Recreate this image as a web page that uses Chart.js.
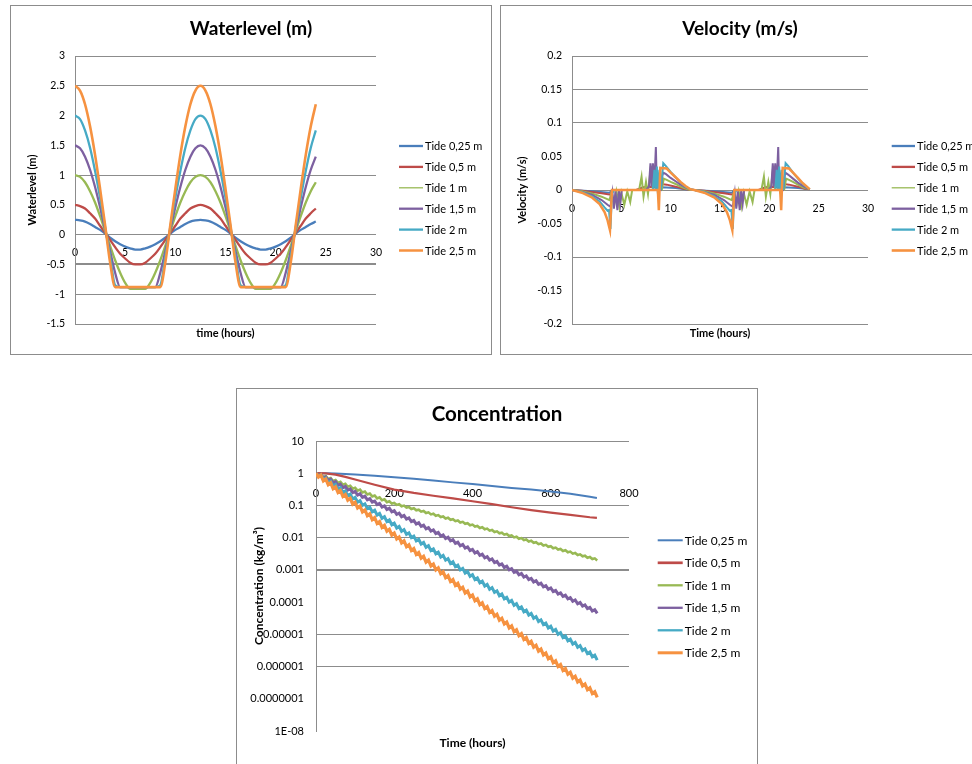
<!DOCTYPE html>
<html>
<head>
<meta charset="utf-8">
<script src="https://cdn.jsdelivr.net/npm/chart.js@4.4.0/dist/chart.umd.min.js"></script>
<style>
  html, body { margin: 0; padding: 0; background: #fff; overflow: hidden; }
  body { width: 972px; height: 764px; position: relative; }
  .box { position: absolute; border: 1px solid #8c8c8c; background: #fff; }
  .box canvas { display: block; }
</style>
</head>
<body>
<div class="box" style="left:10px;top:5px;width:480px;height:348px"><canvas id="wl" width="480" height="348"></canvas></div>
<div class="box" style="left:500px;top:5px;width:478px;height:348px"><canvas id="vel" width="478" height="348"></canvas></div>
<div class="box" style="left:236px;top:388px;width:520px;height:398px"><canvas id="conc" width="520" height="398"></canvas></div>
<script>
// ---- data ----
const seriesNames = ['Tide 0,25 m', 'Tide 0,5 m', 'Tide 1 m', 'Tide 1,5 m', 'Tide 2 m', 'Tide 2,5 m'];
const seriesColors = ['#4A7EBB', '#BE4B48', '#98B954', '#7D60A0', '#46AAC5', '#F69240'];

// waterlevel (m), every half hour
const waterTime = [0,0.5,1,1.5,2,2.5,3,3.5,4,4.5,5,5.5,6,6.5,7,7.5,8,8.5,9,9.5,10,10.5,11,11.5,12,12.5,13,13.5,14,14.5,15,15.5,16,16.5,17,17.5,18,18.5,19,19.5,20,20.5,21,21.5,22,22.5,23,23.5,24];
const wlTide025 = [0.25,0.24,0.22,0.18,0.13,0.08,0.02,-0.05,-0.11,-0.16,-0.20,-0.23,-0.25,-0.25,-0.23,-0.20,-0.16,-0.11,-0.05,0.02,0.08,0.13,0.18,0.22,0.24,0.25,0.24,0.22,0.18,0.13,0.08,0.02,-0.05,-0.11,-0.16,-0.20,-0.23,-0.25,-0.25,-0.23,-0.20,-0.16,-0.11,-0.05,0.02,0.08,0.13,0.18,0.22];
const wlTide05 = [0.50,0.48,0.44,0.36,0.27,0.15,0.03,-0.09,-0.21,-0.32,-0.40,-0.47,-0.50,-0.50,-0.47,-0.40,-0.32,-0.21,-0.09,0.03,0.15,0.27,0.36,0.44,0.48,0.50,0.48,0.44,0.36,0.27,0.15,0.03,-0.09,-0.21,-0.32,-0.40,-0.47,-0.50,-0.50,-0.47,-0.40,-0.32,-0.21,-0.09,0.03,0.15,0.27,0.36,0.44];
const wlTide1 = [1.00,0.97,0.88,0.73,0.54,0.31,0.06,-0.19,-0.43,-0.64,-0.81,-0.91,-0.91,-0.91,-0.91,-0.81,-0.64,-0.43,-0.19,0.06,0.31,0.54,0.73,0.88,0.97,1.00,0.97,0.88,0.73,0.54,0.31,0.06,-0.19,-0.43,-0.64,-0.81,-0.91,-0.91,-0.91,-0.91,-0.81,-0.64,-0.43,-0.19,0.06,0.31,0.54,0.73,0.88];
const wlTide15 = [1.50,1.45,1.31,1.09,0.80,0.46,0.09,-0.28,-0.64,-0.88,-0.88,-0.88,-0.88,-0.88,-0.88,-0.88,-0.88,-0.64,-0.28,0.09,0.46,0.80,1.09,1.31,1.45,1.50,1.45,1.31,1.09,0.80,0.46,0.09,-0.28,-0.64,-0.88,-0.88,-0.88,-0.88,-0.88,-0.88,-0.88,-0.88,-0.64,-0.28,0.09,0.46,0.80,1.09,1.31];
const wlTide2 = [2.00,1.94,1.75,1.46,1.07,0.62,0.13,-0.37,-0.85,-0.88,-0.88,-0.88,-0.88,-0.88,-0.88,-0.88,-0.88,-0.85,-0.37,0.13,0.62,1.07,1.46,1.75,1.94,2.00,1.94,1.75,1.46,1.07,0.62,0.13,-0.37,-0.85,-0.88,-0.88,-0.88,-0.88,-0.88,-0.88,-0.88,-0.88,-0.85,-0.37,0.13,0.62,1.07,1.46,1.75];
const wlTide25 = [2.50,2.42,2.19,1.82,1.34,0.77,0.16,-0.47,-0.88,-0.88,-0.88,-0.88,-0.88,-0.88,-0.88,-0.88,-0.88,-0.88,-0.47,0.16,0.77,1.34,1.82,2.19,2.42,2.50,2.42,2.19,1.82,1.34,0.77,0.16,-0.47,-0.88,-0.88,-0.88,-0.88,-0.88,-0.88,-0.88,-0.88,-0.88,-0.88,-0.47,0.16,0.77,1.34,1.82,2.19];

// velocity (m/s), [hour, value]
const velTide025 = [[0,0],[2,-0.002],[3.8,-0.004],[4.1,0],[8.8,0],[9.1,0.004],[10.5,0.003],[12,0],[12.4,0],[14.4,-0.002],[16.2,-0.004],[16.5,0],[21.2,0],[21.5,0.004],[22.9,0.003],[24.1,0.001]];
const velTide05 = [[0,0],[1,-0.001],[2,-0.003],[3,-0.005],[3.9,-0.007],[4.1,0],[6.5,0],[7.2,0.004],[8,0.005],[8.6,0.004],[8.8,0],[9.1,0.009],[9.6,0.008],[10.5,0.005],[11.3,0.002],[12,0],
  [12.4,0],[13.4,-0.001],[14.4,-0.003],[15.4,-0.005],[16.3,-0.007],[16.5,0],[18.9,0],[19.6,0.004],[20.4,0.005],[21,0.004],[21.2,0],[21.5,0.009],[22,0.008],[22.9,0.005],[23.6,0.002],[24.1,0.001]];
const velTide1 = [[0,0],[1,-0.002],[2,-0.005],[3,-0.01],[3.8,-0.015],[4,-0.004],[4.3,-0.02],[4.5,-0.002],[4.8,-0.025],[5,-0.004],[5.3,-0.022],[5.6,-0.002],[5.9,-0.018],[6.1,0],[6.8,0],[7.05,0.02],[7.25,-0.01],[7.5,0.012],[7.7,-0.006],[8,0.036],[8.2,0],[9.1,0],[9.3,0.017],[9.6,0.015],[10,0.012],[10.5,0.009],[11,0.005],[11.5,0.002],[12,0],
  [12.4,0],[13.4,-0.002],[14.4,-0.005],[15.4,-0.01],[16.2,-0.015],[16.4,-0.004],[16.7,-0.02],[16.9,-0.002],[17.2,-0.025],[17.4,-0.004],[17.7,-0.022],[18,-0.002],[18.3,-0.018],[18.5,0],[19.2,0],[19.45,0.02],[19.65,-0.01],[19.9,0.012],[20.1,-0.006],[20.4,0.036],[20.6,0],[21.5,0],[21.7,0.017],[22,0.015],[22.4,0.012],[22.9,0.008],[23.4,0.004],[23.8,0.002],[24.1,0.001]];
const velTide15 = [[0,0],[1,-0.003],[2,-0.007],[3,-0.015],[3.6,-0.022],[3.9,-0.025],[4.1,-0.004],[4.25,-0.028],[4.4,-0.002],[4.6,-0.03],[4.75,0],[4.9,-0.02],[5.05,0],[7.5,0],[7.8,0.005],[7.95,0.04],[8.05,0.005],[8.2,0.04],[8.35,0.01],[8.5,0.064],[8.6,0.002],[9,0],[9.2,0.026],[9.5,0.024],[10,0.018],[10.5,0.013],[11,0.008],[11.5,0.004],[12,0.001],
  [12.4,0],[13.4,-0.003],[14.4,-0.007],[15.4,-0.015],[16,-0.022],[16.3,-0.025],[16.5,-0.004],[16.65,-0.028],[16.8,-0.002],[17,-0.03],[17.15,0],[17.3,-0.02],[17.45,0],[19.9,0],[20.2,0.005],[20.35,0.04],[20.45,0.005],[20.6,0.04],[20.75,0.01],[20.9,0.064],[21,0.002],[21.4,0],[21.6,0.026],[21.9,0.023],[22.4,0.017],[22.9,0.011],[23.4,0.006],[23.8,0.003],[24.1,0.001]];
const velTide2 = [[0,0],[1,-0.003],[2,-0.009],[2.8,-0.017],[3.3,-0.026],[3.6,-0.031],[3.75,-0.03],[3.9,-0.058],[4.05,-0.005],[4.3,0],[8.2,0],[8.35,0.03],[8.45,0],[8.6,0.035],[8.7,-0.005],[8.85,0.03],[9,0],[9.25,0.04],[9.5,0.036],[10,0.027],[10.5,0.019],[11,0.011],[11.5,0.005],[12,0.001],
  [12.4,0],[13.4,-0.003],[14.4,-0.009],[15.2,-0.017],[15.7,-0.026],[16,-0.031],[16.15,-0.03],[16.3,-0.058],[16.45,-0.005],[16.7,0],[20.6,0],[20.75,0.03],[20.85,0],[21,0.035],[21.1,-0.005],[21.25,0.03],[21.4,0],[21.65,0.04],[21.9,0.036],[22.4,0.026],[22.9,0.017],[23.4,0.009],[23.8,0.004],[24.1,0.001]];
const velTide25 = [[0,0],[1,-0.004],[2,-0.011],[2.8,-0.021],[3.3,-0.033],[3.6,-0.045],[3.85,-0.06],[4.05,0],[8.7,0],[8.8,-0.03],[8.95,0.033],[9.6,0.032],[10,0.026],[10.5,0.019],[11,0.012],[11.5,0.006],[12,0.001],
  [12.4,0],[13.4,-0.004],[14.4,-0.011],[15.2,-0.021],[15.7,-0.033],[16,-0.045],[16.25,-0.06],[16.45,0],[21.1,0],[21.2,-0.03],[21.35,0.033],[22,0.032],[22.4,0.026],[22.9,0.018],[23.4,0.01],[23.8,0.005],[24.1,0.001]];

// concentration (kg/m3)
const concTimeSmooth = [0,25,50,75,100,150,200,250,300,350,400,450,500,550,600,650,700,718];
const concTide025 = [1,1,0.98,0.95,0.91,0.83,0.75,0.67,0.59,0.52,0.46,0.40,0.35,0.31,0.27,0.23,0.185,0.17];
const concTide05 = [1,0.99,0.9,0.77,0.64,0.44,0.31,0.245,0.2,0.165,0.135,0.11,0.088,0.072,0.06,0.051,0.043,0.041];

const concTime = [0,6.25,12.5,18.75,25,31.25,37.5,43.75,50,56.25,62.5,68.75,75,81.25,87.5,93.75,
  100,106.25,112.5,118.75,125,131.25,137.5,143.75,150,156.25,162.5,168.75,175,181.25,187.5,193.75,
  200,206.25,212.5,218.75,225,231.25,237.5,243.75,250,256.25,262.5,268.75,275,281.25,287.5,293.75,
  300,306.25,312.5,318.75,325,331.25,337.5,343.75,350,356.25,362.5,368.75,375,381.25,387.5,393.75,
  400,406.25,412.5,418.75,425,431.25,437.5,443.75,450,456.25,462.5,468.75,475,481.25,487.5,493.75,
  500,506.25,512.5,518.75,525,531.25,537.5,543.75,550,556.25,562.5,568.75,575,581.25,587.5,593.75,
  600,606.25,612.5,618.75,625,631.25,637.5,643.75,650,656.25,662.5,668.75,675,681.25,687.5,693.75,
  700,706.25,712.5,718.75];
const concTide1 = [1,0.871,0.933,0.759,0.813,0.661,0.708,0.575,0.617,0.501,0.537,0.437,0.468,0.380,0.407,0.331,0.355,0.288,0.309,0.251,0.269,0.219,0.234,0.191,0.204,0.166,0.178,0.145,0.155,0.126,0.135,0.114,0.120,0.104,0.109,0.0942,0.0989,0.0855,0.0897,0.0776,0.0815,0.0705,0.0740,0.0640,0.0671,0.0581,0.0610,0.0527,0.0553,0.0479,0.0502,0.0435,0.0456,0.0394,0.0414,0.0358,0.0376,0.0325,0.0341,0.0295,0.0310,0.0268,0.0281,0.0243,0.0255,0.0221,0.0232,0.0200,0.0210,0.0182,0.0191,0.0165,0.0173,0.0150,0.0157,0.0136,0.0143,0.0124,0.0130,0.0112,0.0118,0.0102,0.0107,0.00925,0.00970,0.00839,0.00881,0.00762,0.00800,0.00692,0.00726,0.00628,0.00659,0.00570,0.00598,0.00518,0.00543,0.00470,0.00493,0.00427,0.00448,0.00387,0.00406,0.00352,0.00369,0.00319,0.00335,0.00290,0.00304,0.00263,0.00276,0.00239,0.00251,0.00217,0.00228,0.00197];
const concTide15 = [1,0.841,0.917,0.708,0.772,0.596,0.649,0.501,0.546,0.422,0.460,0.355,0.387,0.299,0.325,0.251,0.274,0.211,0.230,0.178,0.194,0.150,0.163,0.126,0.137,0.106,0.116,0.0891,0.0972,0.0750,0.0818,0.0631,0.0688,0.0531,0.0579,0.0447,0.0487,0.0376,0.0410,0.0316,0.0345,0.0266,0.0290,0.0224,0.0244,0.0188,0.0205,0.0159,0.0173,0.0133,0.0145,0.0112,0.0122,0.00944,0.0103,0.00794,0.00866,0.00668,0.00729,0.00562,0.00613,0.00473,0.00516,0.00398,0.00434,0.00335,0.00365,0.00282,0.00307,0.00237,0.00259,0.00200,0.00218,0.00168,0.00183,0.00141,0.00154,0.00119,0.00130,0.00100,0.00109,8.41e-4,9.17e-4,7.08e-4,7.72e-4,5.96e-4,6.49e-4,5.01e-4,5.46e-4,4.22e-4,4.60e-4,3.55e-4,3.87e-4,2.99e-4,3.25e-4,2.51e-4,2.74e-4,2.11e-4,2.30e-4,1.78e-4,1.94e-4,1.50e-4,1.63e-4,1.26e-4,1.37e-4,1.06e-4,1.16e-4,8.91e-5,9.72e-5,7.50e-5,8.18e-5,6.31e-5,6.88e-5,5.31e-5,5.79e-5,4.47e-5];
const concTide2 = [1,0.794,0.891,0.631,0.708,0.501,0.562,0.398,0.447,0.316,0.355,0.251,0.282,0.200,0.224,0.158,0.178,0.126,0.141,0.100,0.112,
  0.0794,0.0891,0.0631,0.0708,0.0501,0.0562,0.0398,0.0447,0.0316,0.0355,0.0251,0.0282,0.0200,0.0224,0.0158,0.0178,0.0126,0.0141,0.0100,0.0112,
  7.94e-3,8.91e-3,6.31e-3,7.08e-3,5.01e-3,5.62e-3,3.98e-3,4.47e-3,3.16e-3,3.55e-3,2.51e-3,2.82e-3,2.00e-3,2.24e-3,1.58e-3,1.78e-3,1.26e-3,1.41e-3,1.00e-3,1.12e-3,
  7.94e-4,8.91e-4,6.31e-4,7.08e-4,5.01e-4,5.62e-4,3.98e-4,4.47e-4,3.16e-4,3.55e-4,2.51e-4,2.82e-4,2.00e-4,2.24e-4,1.58e-4,1.78e-4,1.26e-4,1.41e-4,1.00e-4,1.12e-4,
  7.94e-5,8.91e-5,6.31e-5,7.08e-5,5.01e-5,5.62e-5,3.98e-5,4.47e-5,3.16e-5,3.55e-5,2.51e-5,2.82e-5,2.00e-5,2.24e-5,1.58e-5,1.78e-5,1.26e-5,1.41e-5,1.00e-5,1.12e-5,
  7.94e-6,8.91e-6,6.31e-6,7.08e-6,5.01e-6,5.62e-6,3.98e-6,4.47e-6,3.16e-6,3.55e-6,2.51e-6,2.82e-6,2.00e-6,2.24e-6,1.58e-6];
const concTide25 = [1,0.759,0.871,0.575,0.661,0.437,0.501,0.331,0.380,0.251,0.288,0.191,0.219,0.145,0.166,0.110,0.126,0.0832,0.0955,0.0631,0.0724,0.0479,0.0550,0.0363,0.0417,0.0275,0.0316,0.0209,0.0240,0.0158,0.0182,0.0120,0.0138,0.00912,0.0105,0.00692,0.00794,0.00525,0.00603,0.00398,0.00457,0.00302,0.00347,0.00229,0.00263,0.00174,0.00200,0.00132,0.00151,0.001,0.00115,7.59e-4,8.71e-4,5.75e-4,6.61e-4,4.37e-4,5.01e-4,3.31e-4,3.80e-4,2.51e-4,2.88e-4,1.91e-4,2.19e-4,1.45e-4,1.66e-4,1.10e-4,1.26e-4,8.32e-5,9.55e-5,6.31e-5,7.24e-5,4.79e-5,5.50e-5,3.63e-5,4.17e-5,2.75e-5,3.16e-5,2.09e-5,2.40e-5,1.58e-5,1.82e-5,1.20e-5,1.38e-5,9.12e-6,1.05e-5,6.92e-6,7.94e-6,5.25e-6,6.03e-6,3.98e-6,4.57e-6,3.02e-6,3.47e-6,2.29e-6,2.63e-6,1.74e-6,2.00e-6,1.32e-6,1.51e-6,1.00e-6,1.15e-6,7.59e-7,8.71e-7,5.75e-7,6.61e-7,4.37e-7,5.01e-7,3.31e-7,3.80e-7,2.51e-7,2.88e-7,1.91e-7,2.19e-7,1.45e-7,1.66e-7,1.10e-7];

const concTicks = [1e-8, 1e-7, 1e-6, 1e-5, 1e-4, 1e-3, 0.01, 0.1, 1, 10];
const concTickLabels = ['1E-08', '0.0000001', '0.000001', '0.00001', '0.0001', '0.001', '0.01', '0.1', '1', '10'];

// ---- helpers ----
const FONT = 'Lato, "Open Sans", sans-serif';
Chart.defaults.font.family = FONT;
Chart.defaults.color = '#000';

function same(a, b) {
  return Math.abs(a - b) <= 1e-6 * Math.max(Math.abs(a), Math.abs(b)) + 1e-12;
}

// excel style numbers: 2.5, 2, 0.15 (no padded zeros)
function plainNum(v) {
  const r = Math.round(v * 1000) / 1000;
  return String(Math.abs(r) < 1e-9 ? 0 : r);
}

// only the grid lines that show up in the picture
function gridStyle(shown, thick) {
  return {
    drawTicks: false,
    color: c => shown.some(v => same(v, c.tick.value)) ? '#8c8c8c' : 'rgba(0,0,0,0)',
    lineWidth: c => (thick !== undefined && same(thick, c.tick.value)) ? 2 : 1
  };
}

function zip(xs, ys) {
  return ys.map((y, i) => ({ x: xs[i], y: y }));
}
function pairs(arr) {
  return arr.map(p => ({ x: p[0], y: p[1] }));
}

function mkSet(i, data, width, extra) {
  return Object.assign({
    label: seriesNames[i],
    data: data,
    borderColor: seriesColors[i],
    backgroundColor: seriesColors[i],
    borderWidth: width,
    pointRadius: 0,
    fill: false,
    order: 6 - i,
    xAxisID: 'x',
    yAxisID: 'y'
  }, extra || {});
}

// legend drawn beside the plot like the excel one
const sideLegend = {
  id: 'sideLegend',
  afterDraw(chart, args, opts) {
    const ctx = chart.ctx;
    ctx.save();
    ctx.font = opts.font;
    ctx.textBaseline = 'middle';
    ctx.textAlign = 'left';
    chart.data.datasets.forEach((ds, i) => {
      const y = opts.y + i * opts.gap;
      ctx.strokeStyle = ds.borderColor;
      ctx.lineWidth = opts.widths[i];
      ctx.beginPath();
      ctx.moveTo(opts.x, y);
      ctx.lineTo(opts.x + opts.len, y);
      ctx.stroke();
      ctx.fillStyle = '#000';
      ctx.fillText(ds.label, opts.x + opts.len + 2, y + 0.5);
    });
    ctx.restore();
  }
};

function spacer(w) {
  return { position: 'right', display: true, grid: { display: false, drawTicks: false }, border: { display: false },
    ticks: { display: false }, afterFit: s => { s.width = w; } };
}

function bottomTitle(text, min, max, size, h, pad) {
  return { type: 'linear', min: min, max: max, position: 'bottom',
    grid: { display: false, drawTicks: false }, border: { display: false }, ticks: { display: false },
    title: { display: true, text: text, color: '#000', font: { size: size, weight: 'bold' }, padding: { top: 0, bottom: pad } },
    afterFit: s => { s.height = h; } };
}

function baseOpts(title, titleSize, titlePad, legend, scales) {
  return {
    responsive: false,
    animation: false,
    events: [],
    layout: { padding: 0 },
    plugins: {
      legend: { display: false },
      tooltip: { enabled: false },
      title: { display: true, text: title, color: '#000', font: { size: titleSize, weight: 'bold' }, padding: titlePad },
      sideLegend: legend
    },
    scales: scales
  };
}

// ---- waterlevel ----
new Chart(document.getElementById('wl'), {
  type: 'line',
  data: {
    datasets: [
      mkSet(0, zip(waterTime, wlTide025), 2.3, { cubicInterpolationMode: 'monotone' }),
      mkSet(1, zip(waterTime, wlTide05), 2.3, { cubicInterpolationMode: 'monotone' }),
      mkSet(2, zip(waterTime, wlTide1), 2.3, { cubicInterpolationMode: 'monotone' }),
      mkSet(3, zip(waterTime, wlTide15), 2.3, { cubicInterpolationMode: 'monotone' }),
      mkSet(4, zip(waterTime, wlTide2), 2.3, { cubicInterpolationMode: 'monotone' }),
      mkSet(5, zip(waterTime, wlTide25), 2.6, { cubicInterpolationMode: 'monotone' })
    ]
  },
  options: baseOpts('Waterlevel (m)', 19, { top: 11.6, bottom: 15.6 },
    { x: 388, y: 140, gap: 20.9, len: 24, font: '11px ' + FONT, widths: [2.3, 2.3, 1.3, 2.3, 2.3, 2.5] },
    {
      x: bottomTitle('time (hours)', 0, 30, 11, 30, 14),
      x0: { type: 'linear', min: 0, max: 30, position: { y: 0 }, grid: { display: false, drawTicks: false }, border: { display: false },
        ticks: { stepSize: 5, padding: 12, color: '#000', font: { size: 10.5 } } },
      y: { type: 'linear', min: -1.5, max: 3,
        ticks: { stepSize: 0.5, padding: 10, color: '#000', font: { size: 10.5 }, callback: plainNum },
        grid: gridStyle([3, 2.5, 1, 0, -0.5, -1, -1.5], -0.5),
        border: { display: true, color: '#8c8c8c' },
        title: { display: true, text: 'Waterlevel (m)', color: '#000', font: { size: 11, weight: 'bold' }, padding: { top: 14.4, bottom: 0 } },
        afterFit: s => { s.width = 64; } },
      yR: spacer(115)
    }),
  plugins: [sideLegend]
});

// ---- velocity ----
new Chart(document.getElementById('vel'), {
  type: 'line',
  data: {
    datasets: [
      mkSet(0, pairs(velTide025), 2),
      mkSet(1, pairs(velTide05), 2),
      mkSet(2, pairs(velTide1), 2),
      mkSet(3, pairs(velTide15), 2),
      mkSet(4, pairs(velTide2), 2),
      mkSet(5, pairs(velTide25), 2.5)
    ]
  },
  options: baseOpts('Velocity (m/s)', 19, { top: 11.6, bottom: 15.6 },
    { x: 390.7, y: 140, gap: 20.9, len: 23.3, font: '11px ' + FONT, widths: [2.3, 2.3, 1.3, 2.3, 2.3, 2.6] },
    {
      x: bottomTitle('Time (hours)', 0, 30, 11, 30, 14),
      x0: { type: 'linear', min: 0, max: 30, position: { y: 0 }, grid: { display: false, drawTicks: false }, border: { display: false },
        ticks: { stepSize: 5, padding: 12, color: '#000', font: { size: 10.5 } } },
      y: { type: 'linear', min: -0.2, max: 0.2,
        ticks: { stepSize: 0.05, padding: 10, color: '#000', font: { size: 10.5 }, callback: plainNum },
        grid: gridStyle([0.2, 0.15, 0.1, 0, -0.1, -0.2]),
        border: { display: true, color: '#8c8c8c' },
        title: { display: true, text: 'Velocity (m/s)', color: '#000', font: { size: 11, weight: 'bold' }, padding: { top: 15, bottom: 0 } },
        afterFit: s => { s.width = 71; } },
      yR: spacer(111)
    }),
  plugins: [sideLegend]
});

// ---- concentration ----
new Chart(document.getElementById('conc'), {
  type: 'line',
  data: {
    datasets: [
      mkSet(0, zip(concTimeSmooth, concTide025), 2),
      mkSet(1, zip(concTimeSmooth, concTide05), 2.2),
      mkSet(2, zip(concTime, concTide1), 2.6),
      mkSet(3, zip(concTime, concTide15), 3),
      mkSet(4, zip(concTime, concTide2), 3),
      mkSet(5, zip(concTime, concTide25), 3.2)
    ]
  },
  options: baseOpts('Concentration', 20.5, { top: 12.7, bottom: 14.7 },
    { x: 420.7, y: 151.3, gap: 22.5, len: 25, font: '12px ' + FONT, widths: [2, 2.7, 2.3, 2.3, 2.3, 3] },
    {
      x: bottomTitle('Time (hours)', 0, 800, 12, 56, 36.8),
      x0: { type: 'linear', min: 0, max: 800, position: { y: 1 }, grid: { display: false, drawTicks: false }, border: { display: false },
        ticks: { stepSize: 200, padding: 14, color: '#000', font: { size: 11 } } },
      y: { type: 'logarithmic', min: 1e-8, max: 10,
        afterBuildTicks: s => { s.ticks = concTicks.map(v => ({ value: v })); },
        ticks: { padding: 12, color: '#000', font: { size: 11 },
          callback: v => { const i = concTicks.findIndex(t => same(t, v)); return i < 0 ? '' : concTickLabels[i]; } },
        grid: gridStyle([10, 0.1, 0.01, 0.001, 1e-5, 1e-6], 0.001),
        border: { display: true, color: '#8c8c8c' },
        title: { display: true, text: 'Concentration (kg/m³)', color: '#000', font: { size: 12, weight: 'bold' }, padding: { top: 14.5, bottom: 0 } },
        afterFit: s => { s.width = 79; } },
      yR: spacer(128)
    }),
  plugins: [sideLegend]
});
</script>
</body>
</html>
